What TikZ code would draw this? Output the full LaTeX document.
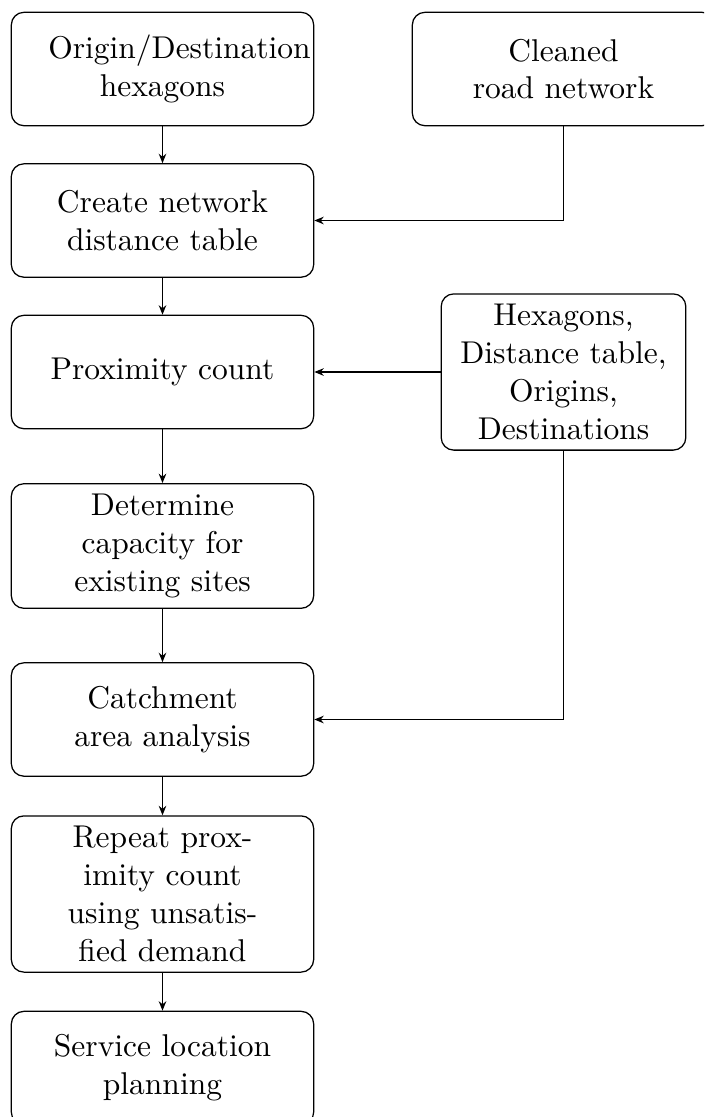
\documentclass[tikz,border=0pt]{standalone}
\usetikzlibrary{arrows.meta}
\begin{document}
\begin{tikzpicture}[x=0.3175pt,y=-0.3175pt,
  box/.style={draw, rounded corners=4pt, minimum width=96pt, minimum height=36pt, text width=72.5pt, align=center, line width=0.4pt},
  sidebox/.style={draw, rounded corners=4pt, text width=71pt, align=center, line width=0.4pt},
  arr/.style={-{Stealth[length=3pt,width=2.4pt]}, line width=0.4pt}]
\useasboundingbox (0,0) rectangle (704,1117);
\clip (0,0) rectangle (704,1117);
\node[box] (orig) at (162.5,69) {Origin/Destination\\hexagons};
\node[box] (clean) at (563.5,69) {Cleaned\\road network};
\node[box] (create) at (162.5,220.5) {Create network\\distance table};
\node[box] (prox) at (162.5,372) {Proximity count};
\node[sidebox] (hex) at (563.5,372) {Hexagons,\\Distance table,\\Origins,\\Destinations};
\node[box] (det) at (162.5,546) {Determine\\capacity for\\existing sites};
\node[box] (catch) at (162.5,719.5) {Catchment\\area analysis};
\node[box] (rep) at (162.5,894) {Repeat prox-\\imity count\\using unsatis-\\fied demand};
\node[box] (serv) at (162.5,1068) {Service location\\planning};
\draw[arr] (orig.south) -- (create.north);
\draw[arr] (clean.south) |- (create.east);
\draw[arr] (create.south) -- (prox.north);
\draw[arr] (hex.west) -- (prox.east);
\draw[arr] (prox.south) -- (det.north);
\draw[arr] (det.south) -- (catch.north);
\draw[arr] (hex.south) |- (catch.east);
\draw[arr] (catch.south) -- (rep.north);
\draw[arr] (rep.south) -- (serv.north);
\end{tikzpicture}
\end{document}
